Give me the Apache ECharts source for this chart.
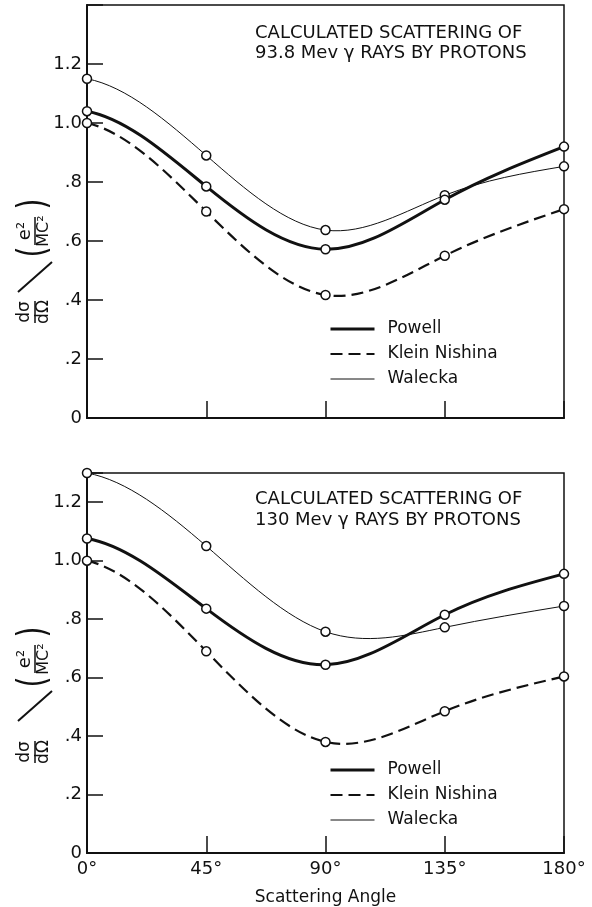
<!DOCTYPE html>
<html>
<head>
<meta charset="utf-8">
<script src="https://cdn.jsdelivr.net/npm/echarts@6/dist/echarts.min.js"></script>
<style>
html, body { margin: 0; padding: 0; background: #fff; }
#chart { width: 592px; height: 907px; }
</style>
</head>
<body>
<div id="chart"></div>
<script>
// scattering angle (degrees)
const angles = [0, 45, 90, 135, 180];
const angleLabels = ['0°', '45°', '90°', '135°', '180°'];
const yTickLabels = ['0', '.2', '.4', '.6', '.8', '1.0', '1.2'];

// 93.8 Mev panel
const powell938 = [1.04, 0.785, 0.572, 0.74, 0.92];
const klein938 = [1.00, 0.70, 0.417, 0.55, 0.708];
const walecka938 = [1.15, 0.89, 0.637, 0.755, 0.853];

// 130 Mev panel
const powell130 = [1.076, 0.836, 0.644, 0.815, 0.955];
const klein130 = [1.00, 0.69, 0.38, 0.485, 0.604];
const walecka130 = [1.30, 1.05, 0.757, 0.772, 0.845];

const FONT = 'DejaVu Sans';
const INK = '#111';
const DASH = [12, 6];
const START_SLOPE = 0.3; // curves leave 0° fairly flat

let myChart = echarts.init(document.getElementById('chart'));

// cubic spline through pixel points: gentle start, natural end
function splinePath(pts) {
    const n = pts.length - 1;
    const x = pts.map(p => p[0]), y = pts.map(p => p[1]);
    const h = [];
    for (let i = 0; i < n; i++) h.push(x[i + 1] - x[i]);
    const s0 = START_SLOPE * (y[1] - y[0]) / h[0];
    const a = [], b = [], c = [], d = [];
    a[0] = 0; b[0] = 2 * h[0]; c[0] = h[0]; d[0] = 6 * ((y[1] - y[0]) / h[0] - s0);
    for (let i = 1; i < n; i++) {
        a[i] = h[i - 1]; b[i] = 2 * (h[i - 1] + h[i]); c[i] = h[i];
        d[i] = 6 * ((y[i + 1] - y[i]) / h[i] - (y[i] - y[i - 1]) / h[i - 1]);
    }
    a[n] = 0; b[n] = 1; c[n] = 0; d[n] = 0;
    for (let i = 1; i <= n; i++) {
        const w = a[i] / b[i - 1];
        b[i] -= w * c[i - 1];
        d[i] -= w * d[i - 1];
    }
    const M = [];
    M[n] = d[n] / b[n];
    for (let i = n - 1; i >= 0; i--) M[i] = (d[i] - c[i] * M[i + 1]) / b[i];
    const m = [];
    for (let i = 0; i < n; i++) m[i] = (y[i + 1] - y[i]) / h[i] - h[i] * (2 * M[i] + M[i + 1]) / 6;
    m[n] = (y[n] - y[n - 1]) / h[n - 1] + h[n - 1] * (M[n - 1] + 2 * M[n]) / 6;
    let s = 'M' + x[0] + ' ' + y[0];
    for (let i = 0; i < n; i++) {
        const k = h[i] / 3;
        s += ' C' + (x[i] + k) + ' ' + (y[i] + m[i] * k) + ' '
            + (x[i + 1] - k) + ' ' + (y[i + 1] - m[i + 1] * k) + ' '
            + x[i + 1] + ' ' + y[i + 1];
    }
    return s;
}

function curve(values, idx, width, dash, z) {
    return {
        type: 'custom',
        xAxisIndex: idx,
        yAxisIndex: idx,
        silent: true,
        z: z,
        data: angles.map((a, i) => [a, values[i]]),
        renderItem: function (params, api) {
            if (params.dataIndex !== 0) return null;
            const pts = angles.map((a, i) => api.coord([a, values[i]]));
            return {
                type: 'path',
                shape: { pathData: splinePath(pts) },
                style: { fill: 'none', stroke: INK, lineWidth: width, lineDash: dash }
            };
        }
    };
}

// circles at the calculated points (also feeds the legend)
function points(name, values, idx, width, type) {
    return {
        name: name,
        type: 'line',
        xAxisIndex: idx,
        yAxisIndex: idx,
        data: angles.map((a, i) => [a, values[i]]),
        symbol: 'circle',
        symbolSize: 9,
        z: 6,
        itemStyle: { color: '#fff', borderColor: INK, borderWidth: 1.5 },
        lineStyle: { color: INK, width: width, type: type, opacity: 0 },
        emphasis: { disabled: true }
    };
}

function xAxis(idx, showLabels) {
    return {
        type: 'value',
        gridIndex: idx,
        min: 0,
        max: 180,
        interval: 45,
        axisLine: { lineStyle: { color: INK, width: 2 } },
        axisTick: { inside: true, length: 17, lineStyle: { color: INK, width: 1.5 } },
        axisLabel: {
            show: showLabels,
            margin: 7,
            color: INK,
            fontFamily: FONT,
            fontSize: 18,
            formatter: v => angleLabels[angles.indexOf(v)] || ''
        },
        splitLine: { show: false },
        name: showLabels ? 'Scattering Angle' : '',
        nameLocation: 'middle',
        nameGap: 36,
        nameTextStyle: { color: INK, fontFamily: FONT, fontSize: 17 }
    };
}

function yAxis(idx, max) {
    return {
        type: 'value',
        gridIndex: idx,
        min: 0,
        max: max,
        interval: 0.2,
        axisLine: { lineStyle: { color: INK, width: 2 } },
        axisTick: { inside: true, length: 16, lineStyle: { color: INK, width: 1.5 } },
        axisLabel: {
            margin: 5,
            color: INK,
            fontFamily: FONT,
            fontSize: 18,
            formatter: function (v) {
                let k = Math.round(v / 0.2);
                if (Math.abs(v / 0.2 - k) > 1e-6) return '';
                return yTickLabels[k] || '';
            }
        },
        splitLine: { show: false }
    };
}

// rotated  dσ/dΩ / (e²/MC²)
function yName(x, y, gaps) {
    let t = (text, px, py, size, sy) => ({
        type: 'text', x: px, y: py, scaleY: sy || 1,
        style: {
            text: text, fill: INK, font: size + 'px "' + FONT + '"',
            align: 'center', verticalAlign: 'middle',
            textAlign: 'center', textVerticalAlign: 'middle'
        }
    });
    let line = (x1, y1, x2, y2, w) => ({
        type: 'line', shape: { x1: x1, y1: y1, x2: x2, y2: y2 },
        style: { stroke: INK, lineWidth: w }
    });
    const s = gaps[0], o = gaps[1], f = gaps[2], c = gaps[3];
    return {
        type: 'group', x: x, y: y, rotation: Math.PI / 2,
        children: [
            t('dσ', 0, -10, 17), line(-11, 0, 11, 0, 1.5), t('dΩ', 0, 9, 17),
            line(s - 15, -17, s + 15, 17, 2),
            t('(', o, 0, 28, 1.4),
            t('e²', f, -10, 18), line(f - 14, 0, f + 14, 0, 1.5), t('MC²', f, 9, 16),
            t(')', c, 0, 28, 1.4)
        ]
    };
}

function legendData() {
    return [
        { name: 'Powell', lineStyle: { width: 3 } },
        { name: 'Klein Nishina', lineStyle: { width: 2.2 } },
        { name: 'Walecka', lineStyle: { width: 1 } }
    ];
}

let legendBase = {
    orient: 'vertical',
    left: 324,
    itemWidth: 44,
    itemHeight: 14,
    itemGap: 5,
    selectedMode: false,
    itemStyle: { opacity: 0 },
    lineStyle: { opacity: 1 },
    textStyle: { color: INK, fontFamily: FONT, fontSize: 17, lineHeight: 20, padding: [0, 0, 0, 8] }
};

let option = {
    backgroundColor: '#fff',
    animation: false,
    title: [
        {
            text: 'CALCULATED SCATTERING OF\n93.8 Mev γ RAYS BY PROTONS',
            left: 250, top: 18,
            textStyle: { color: INK, fontFamily: FONT, fontSize: 18, fontWeight: 'normal', lineHeight: 20 }
        },
        {
            text: 'CALCULATED SCATTERING OF\n130 Mev γ RAYS BY PROTONS',
            left: 250, top: 484,
            textStyle: { color: INK, fontFamily: FONT, fontSize: 18, fontWeight: 'normal', lineHeight: 21 }
        }
    ],
    legend: [
        Object.assign({}, legendBase, { top: 314, data: legendData() }),
        Object.assign({}, legendBase, { top: 755, data: legendData() })
    ],
    grid: [
        { left: 87, right: 28, top: 5, height: 413, show: true, borderColor: INK, borderWidth: 1.5 },
        { left: 87, right: 28, top: 473, height: 384, show: true, borderColor: INK, borderWidth: 1.5 }
    ],
    xAxis: [xAxis(0, false), xAxis(1, true)],
    yAxis: [yAxis(0, 1.4), yAxis(1, 1.3)],
    graphic: [yName(35, 312, [35, 60, 81, 108]), yName(35, 752, [46, 70, 93, 120])],
    series: [
        curve(walecka938, 0, 1, null, 2),
        curve(klein938, 0, 2.2, DASH, 3),
        curve(powell938, 0, 3, null, 4),
        curve(walecka130, 1, 1, null, 2),
        curve(klein130, 1, 2.2, DASH, 3),
        curve(powell130, 1, 3, null, 4),
        points('Walecka', walecka938, 0, 1, 'solid'),
        points('Klein Nishina', klein938, 0, 2.2, DASH),
        points('Powell', powell938, 0, 3, 'solid'),
        points('Walecka', walecka130, 1, 1, 'solid'),
        points('Klein Nishina', klein130, 1, 2.2, DASH),
        points('Powell', powell130, 1, 3, 'solid')
    ]
};

myChart.setOption(option);
</script>
</body>
</html>
